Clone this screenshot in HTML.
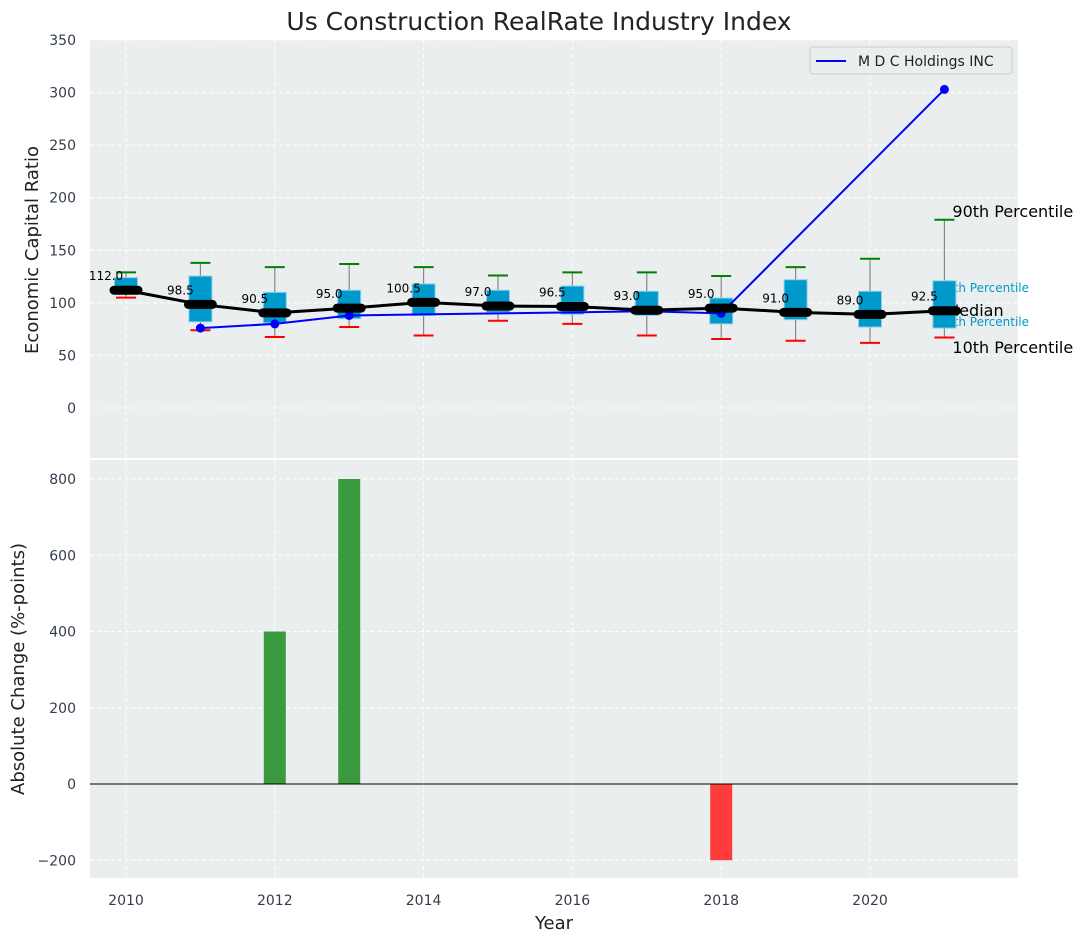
<!DOCTYPE html>
<html><head><meta charset="utf-8"><style>
body{margin:0;background:#fff;font-family:"Liberation Sans","DejaVu Sans",sans-serif;}
text{font-family:"DejaVu Sans","Liberation Sans",sans-serif;}
</style></head><body>
<svg id="c" width="1088" height="942" xmlns="http://www.w3.org/2000/svg"></svg>
<script>
const years=[2010,2011,2012,2013,2014,2015,2016,2017,2018,2019,2020,2021];
const p90=[129,138,134,137,134,126,129,129,125.5,134,142,179];
const q75=[124,125.5,110,112,118,112,116,111,104.6,122,111,121];
const q25=[109,82,81,85,88,91,89,88,80,84,77,76];
const p10=[105,74,67.5,77,69,83,80,69,65.6,64,62,67];
const medians=[112,98.5,90.5,95,100.5,97,96.5,93,95,91,89,92.5];
const mdcYears=[2011,2012,2013,2014,2015,2016,2017,2018,2021];
const mdcVals=[76,80,88,89,90,91,92,90,303];
const changeYears=[2012,2013,2018];
const changeVals=[400,800,-200];
const topTicks=[0,50,100,150,200,250,300,350];
const botTicks=[-200,0,200,400,600,800];
const xTicks=[2010,2012,2014,2016,2018,2020];

const svg=document.getElementById('c');
const NS='http://www.w3.org/2000/svg';
function mk(tag,attrs,name,parent){const e=document.createElementNS(NS,tag);for(const k in attrs)e.setAttribute(k,attrs[k]);


(parent||svg).appendChild(e);return e;}
const X=y=>126+(y-2010)*74.4;
const Yt=v=>408-v*1.0514;
const Yb=v=>784-v*0.38125;
const L=90,R=1018;
mk('rect',{x:L,y:40,width:R-L,height:418,fill:'#eaeeef'},'top-plot-area');
mk('rect',{x:L,y:460,width:R-L,height:418,fill:'#eaeeef'},'bottom-plot-area');
xTicks.forEach(t=>{mk('line',{x1:X(t),x2:X(t),y1:40,y2:458,stroke:'#fff','stroke-dasharray':'4,3','stroke-width':1},'top-x-grid');
mk('line',{x1:X(t),x2:X(t),y1:460,y2:878,stroke:'#fff','stroke-dasharray':'4,3','stroke-width':1},'bottom-x-grid');});
topTicks.forEach(t=>{mk('line',{x1:L,x2:R,y1:Yt(t),y2:Yt(t),stroke:'#fff','stroke-dasharray':'4,3'},'top-y-grid');
const tx=mk('text',{x:76,y:Yt(t)+5,'text-anchor':'end','font-size':14,fill:'#333d4d'},'top-y-tick');tx.textContent=t;});
botTicks.forEach(t=>{mk('line',{x1:L,x2:R,y1:Yb(t),y2:Yb(t),stroke:'#fff','stroke-dasharray':'4,3'},'bottom-y-grid');
const tx=mk('text',{x:76,y:Yb(t)+5,'text-anchor':'end','font-size':14,fill:'#333d4d'},'bottom-y-tick');tx.textContent=(t<0?'\u2212'+(-t):t);});
xTicks.forEach(t=>{const tx=mk('text',{x:X(t),y:905,'text-anchor':'middle','font-size':14,fill:'#333d4d'},'x-tick');tx.textContent=t;});
const last=years.length-1,xa=X(years[last]);
[['90th Percentile',217,'#000',16,xa+8],['75th Percentile',292,'#0099cc',12,xa-6],['Median',316,'#000',16,xa+1],['25th Percentile',326,'#0099cc',12,xa-6],['10th Percentile',353,'#000',16,xa+8]].forEach(a=>{
const tx=mk('text',{x:a[4],y:a[1],'font-size':a[3],fill:a[2]},'percentile-annotation');tx.textContent=a[0];});
years.forEach((yr,i)=>{const x=X(yr);
mk('line',{x1:x,x2:x,y1:Yt(p90[i]),y2:Yt(p10[i]),stroke:'#888','stroke-width':1.2},'whisker');
mk('rect',{x:x-11.5,y:Yt(q75[i]),width:23,height:Yt(q25[i])-Yt(q75[i]),fill:'#0099cc',stroke:'#8fd0ea','stroke-width':1},'iqr-box');
mk('line',{x1:x-10,x2:x+10,y1:Yt(p90[i]),y2:Yt(p90[i]),stroke:'green','stroke-width':2},'p90-cap');
mk('line',{x1:x-10,x2:x+10,y1:Yt(p10[i]),y2:Yt(p10[i]),stroke:'red','stroke-width':2},'p10-cap');});
mk('polyline',{points:mdcYears.map((y,i)=>X(y)+','+Yt(mdcVals[i])).join(' '),fill:'none',stroke:'blue','stroke-width':2},'mdc-line');
[2011,2012,2013,2018,2021].forEach(y=>{const i=mdcYears.indexOf(y);mk('circle',{cx:X(y),cy:Yt(mdcVals[i]),r:4.5,fill:'blue'},'mdc-point');});
mk('polyline',{points:years.map((y,i)=>X(y)+','+Yt(medians[i])).join(' '),fill:'none',stroke:'#000','stroke-width':3},'median-line');
years.forEach((yr,i)=>{const x=X(yr);
mk('line',{x1:x-12,x2:x+12,y1:Yt(medians[i]),y2:Yt(medians[i]),stroke:'#000','stroke-width':9,'stroke-linecap':'round'},'median-marker');
const tx=mk('text',{x:x-20,y:Yt(medians[i])-10,'text-anchor':'middle','font-size':12,fill:'#000'},'median-label');tx.textContent=medians[i].toFixed(1);});
mk('rect',{x:810,y:47,width:202,height:27,rx:3,fill:'#eaeeef',stroke:'#ccc'},'legend');
mk('line',{x1:816,x2:846,y1:61,y2:61,stroke:'blue','stroke-width':2},'legend-swatch');
let lt=mk('text',{x:858,y:66,'font-size':14,fill:'#222'},'legend-label');lt.textContent='M D C Holdings INC';
changeYears.forEach((y,i)=>{const v=changeVals[i];const y0=Yb(0),y1=Yb(v);
mk('rect',{x:X(y)-11,y:Math.min(y0,y1),width:22,height:Math.abs(y1-y0),fill:v>=0?'#3a9a3e':'#ff3c3c'},'change-bar');});
mk('line',{x1:L,x2:R,y1:Yb(0),y2:Yb(0),stroke:'#000','stroke-width':1},'zero-line');
let t=mk('text',{x:539,y:30,'text-anchor':'middle','font-size':25,fill:'#222'},'chart-title');t.textContent='Us Construction RealRate Industry Index';
t=mk('text',{x:0,y:0,'text-anchor':'middle','font-size':18,fill:'#222',transform:'translate(38,250) rotate(-90)'},'top-y-axis-title');t.textContent='Economic Capital Ratio';
t=mk('text',{x:0,y:0,'text-anchor':'middle','font-size':18,fill:'#222',transform:'translate(24,669) rotate(-90)'},'bottom-y-axis-title');t.textContent='Absolute Change (%-points)';
t=mk('text',{x:554,y:929,'text-anchor':'middle','font-size':18,fill:'#222'},'x-axis-title');t.textContent='Year';
</script>
</body></html>
